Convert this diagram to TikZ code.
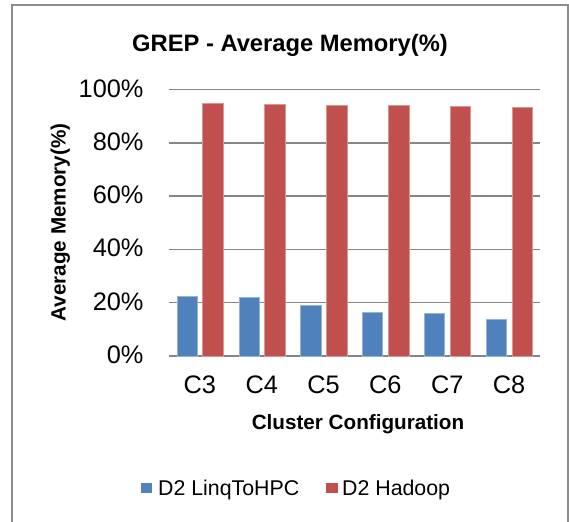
\documentclass[tikz,border=0pt]{standalone}
\usepackage{fontspec}
\setmainfont{Liberation Sans}
\definecolor{barblue}{RGB}{79,129,189}
\definecolor{barred}{RGB}{192,80,77}
\definecolor{gridgray}{RGB}{134,134,134}
\definecolor{framegray}{RGB}{140,140,140}
\tikzset{every picture/.style={line width=0.75pt},
	gridline/.style={draw=gridgray, line width=1.1pt},
	bluebar/.style={fill=barblue, draw=barblue!60!white, line width=0.4pt},
	redbar/.style={fill=barred, draw=barred!60!white, line width=0.4pt},
	ticklabel/.style={anchor=base east, inner sep=0.75pt, font=\fontsize{19}{22}\selectfont},
	catlabel/.style={anchor=base, inner sep=0.75pt, font=\fontsize{19}{22}\selectfont},
	axistitle/.style={anchor=base, inner sep=0.75pt, font=\fontsize{15.5}{18}\selectfont\bfseries},
	legendlabel/.style={anchor=base west, inner sep=0.75pt, font=\fontsize{16}{19}\selectfont}}

\begin{document}
\begin{tikzpicture}[x=0.75pt,y=0.75pt,yscale=-1,xscale=1]
		\useasboundingbox (0,0) rectangle (569,522);
		
		%Shape: Frame
		\draw [draw=framegray, line width=1.1pt]  (12,522) -- (12,5) -- (568,5) -- (568,522) ;
		
		%Gridlines
		\draw [gridline]  (169,356) -- (540,356) ;
		\draw [gridline]  (169,302.7) -- (540,302.7) ;
		\draw [gridline]  (169,249.4) -- (540,249.4) ;
		\draw [gridline]  (169,196.1) -- (540,196.1) ;
		\draw [gridline]  (169,142.8) -- (540,142.8) ;
		\draw [gridline]  (169,89.5) -- (540,89.5) ;
		
		%Shape: Bars C3
		\draw [bluebar]  (177,356) rectangle (197.1,295.8) ;
		\draw [redbar]  (202.7,356) rectangle (223.3,102.8) ;
		%Shape: Bars C4
		\draw [bluebar]  (238.9,356) rectangle (259,297.4) ;
		\draw [redbar]  (264.6,356) rectangle (285.2,104.7) ;
		%Shape: Bars C5
		\draw [bluebar]  (300.7,356) rectangle (320.8,305.6) ;
		\draw [redbar]  (326.4,356) rectangle (347,105) ;
		%Shape: Bars C6
		\draw [bluebar]  (362.5,356) rectangle (382.6,311.8) ;
		\draw [redbar]  (388.2,356) rectangle (408.8,105) ;
		%Shape: Bars C7
		\draw [bluebar]  (424.4,356) rectangle (444.5,313.4) ;
		\draw [redbar]  (450.1,356) rectangle (470.7,105.8) ;
		%Shape: Bars C8
		\draw [bluebar]  (486.2,356) rectangle (506.3,319) ;
		\draw [redbar]  (511.9,356) rectangle (532.5,107.6) ;
		
		%Legend keys
		\draw [fill=barblue, draw=none]  (140.7,482.7) rectangle (152.3,493.3) ;
		\draw [fill=barred, draw=none]  (326,482.7) rectangle (337.6,493.3) ;
		
		\node (title) at (290,51) [anchor=base][inner sep=0.75pt][font=\fontsize{17.8}{20}\selectfont\bfseries]  {GREP - Average Memory(\%)};
		\node (t0) at (145,363.5) [ticklabel]  {0\%};
		\node (t20) at (145,310.2) [ticklabel]  {20\%};
		\node (t40) at (145,256.9) [ticklabel]  {40\%};
		\node (t60) at (145,203.6) [ticklabel]  {60\%};
		\node (t80) at (145,150.3) [ticklabel]  {80\%};
		\node (t100) at (145,97) [ticklabel]  {100\%};
		\node (c3) at (199.9,393) [catlabel]  {C3};
		\node (c4) at (261.75,393) [catlabel]  {C4};
		\node (c5) at (323.6,393) [catlabel]  {C5};
		\node (c6) at (385.4,393) [catlabel]  {C6};
		\node (c7) at (447.25,393) [catlabel]  {C7};
		\node (c8) at (509.1,393) [catlabel]  {C8};
		\node (xtitle) at (358,429) [axistitle]  {Cluster Configuration};
		\node (ytitle) at (65.5,222.5) [axistitle, rotate=90]  {Average Memory(\%)};
		\node (lblue) at (156.7,495) [legendlabel]  {D2 LinqToHPC};
		\node (lred) at (340.7,495) [legendlabel]  {D2 Hadoop};
		
	\end{tikzpicture}
\end{document}
